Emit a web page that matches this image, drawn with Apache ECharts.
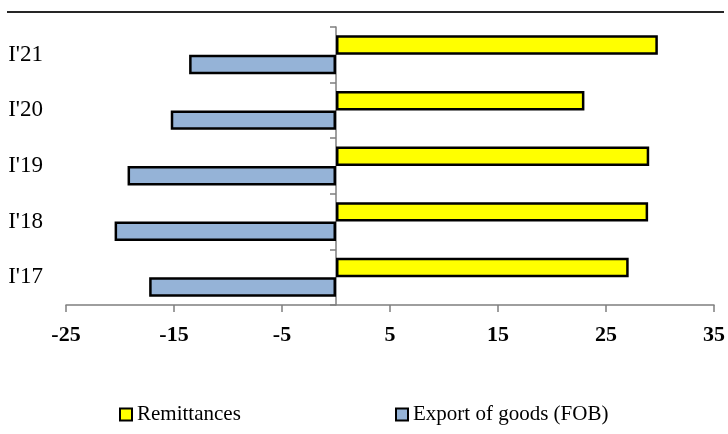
<!DOCTYPE html>
<html>
<head>
<meta charset="utf-8">
<script src="https://cdn.jsdelivr.net/npm/echarts@6/dist/echarts.min.js"></script>
<style>
html,body{margin:0;padding:0;background:#fff;}
#chart{width:728px;height:434px;}
</style>
</head>
<body>
<div id="chart"></div>
<script>
const categories = ["I'17", "I'18", "I'19", "I'20", "I'21"];
const remittances = [27.1, 28.9, 29.0, 23.0, 29.8];
const exportGoods = [-17.3, -20.5, -19.3, -15.3, -13.6];
const xMin = -25, xMax = 35, xStep = 10;

const serif = "'Liberation Serif', 'Times New Roman', serif";
const chart = echarts.init(document.getElementById('chart'));
chart.setOption({
  animation: false,
  backgroundColor: '#fff',
  graphic: [{
    type: 'line',
    shape: {x1: 7, y1: 12, x2: 724, y2: 12},
    style: {stroke: '#262626', lineWidth: 2}
  }],
  grid: {left: 66, right: 14, top: 27, bottom: 129, containLabel: false, outerBoundsMode: 'none'},
  legend: [{
    data: ['Remittances'],
    icon: 'rect',
    left: 114, top: 399,
    itemWidth: 12, itemHeight: 12,
    textStyle: {fontFamily: serif, fontSize: 21, color: '#000'}
  }, {
    data: ['Export of goods (FOB)'],
    icon: 'rect',
    left: 390, top: 399,
    itemWidth: 12, itemHeight: 12,
    textStyle: {fontFamily: serif, fontSize: 21, color: '#000'}
  }],
  xAxis: {
    type: 'value', min: xMin, max: xMax, interval: xStep,
    axisLine: {show: true, lineStyle: {color: '#7f7f7f', width: 1.5}},
    axisTick: {show: true, length: 7, lineStyle: {color: '#7f7f7f', width: 1.5}},
    splitLine: {show: false},
    axisLabel: {fontFamily: serif, fontSize: 22, fontWeight: 'bold', color: '#000', margin: 19}
  },
  yAxis: [{
    type: 'category', data: categories,
    axisLine: {show: true, onZero: true, lineStyle: {color: '#7f7f7f', width: 1.5}},
    axisTick: {show: true, length: 6, lineStyle: {color: '#7f7f7f', width: 1.5}},
    axisLabel: {show: false}
  }, {
    type: 'category', data: categories, position: 'left',
    axisLine: {show: false, onZero: false},
    axisTick: {show: false},
    axisLabel: {fontFamily: serif, fontSize: 23, color: '#000', margin: 23}
  }],
  series: [{
    name: 'Remittances', type: 'bar', data: remittances,
    barGap: '0%', barCategoryGap: '30%',
    itemStyle: {color: '#FFFF00', borderColor: '#000', borderWidth: 2.5}
  }, {
    name: 'Export of goods (FOB)', type: 'bar', data: exportGoods,
    barGap: '0%', barCategoryGap: '30%',
    itemStyle: {color: '#95B3D7', borderColor: '#000', borderWidth: 2.5}
  }]
});
</script>
</body>
</html>
